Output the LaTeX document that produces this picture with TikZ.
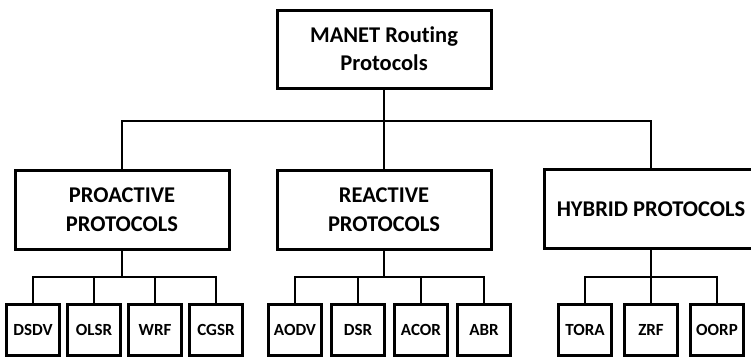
\documentclass[tikz,border=0pt]{standalone}
\usepackage{fontspec}
\setmainfont{Carlito}[Ligatures=CommonOff]
\usetikzlibrary{positioning}

\begin{document}
\begin{tikzpicture}[
  x=1pt, y=-1pt,
  node distance=5pt,
  rootbox/.style={
    rectangle, draw=black, line width=3pt, fill=white,
    minimum width=214pt, minimum height=78pt, align=center,
    font=\fontsize{22.5}{28}\selectfont\bfseries
  },
  classbox/.style={
    rectangle, draw=black, line width=3pt, fill=white,
    minimum width=214pt, minimum height=79pt, align=center,
    font=\fontsize{22.5}{29}\selectfont\bfseries
  },
  leaf/.style={
    rectangle, draw=black, line width=3pt, fill=white,
    minimum width=53pt, minimum height=51pt, align=center,
    font=\fontsize{17}{20}\selectfont\bfseries
  },
  link/.style={line width=2.5pt, color=black},
]
  \clip (0,0) rectangle (751,359);

  % Level 0: root
  \node[rootbox] (root) at (384,49) {MANET Routing\\Protocols};

  % Level 1: protocol classes
  \node[classbox] (pro) at (122,210) {PROACTIVE\\PROTOCOLS};
  \node[classbox] (rea) at (384,210) {REACTIVE\\PROTOCOLS};
  \node[classbox] (hyb) at (651,209) {HYBRID PROTOCOLS};

  % Level 2: proactive
  \node[leaf] (dsdv) at (33,330) {DSDV};
  \node[leaf, right=of dsdv] (olsr) {OLSR};
  \node[leaf, right=of olsr] (wrf) {WRF};
  \node[leaf, right=of wrf] (cgsr) {CGSR};

  % Level 2: reactive
  \node[leaf] (aodv) at (295,330) {AODV};
  \node[leaf, right=7pt of aodv] (dsr) {DSR};
  \node[leaf, right=7pt of dsr] (acor) {ACOR};
  \node[leaf, right=7pt of acor] (abr) {ABR};

  % Level 2: hybrid
  \node[leaf] (tora) at (585,330) {TORA};
  \node[leaf, right=10pt of tora] (zrf) {ZRF};
  \node[leaf, right=10pt of zrf] (oorp) {OORP};

  % Connectors
  \coordinate (rootbar) at (384,121);
  \draw[link] (root) -- (rea);
  \draw[link] (pro.north) |- (rootbar) -| (hyb.north);

  \coordinate (probar) at (122,277);
  \draw[link] (pro) -- (probar);
  \draw[link] (dsdv.north) |- (probar) -| (cgsr.north);
  \foreach \n in {olsr,wrf}
    \draw[link] (\n.north) -- (\n.north |- probar);

  \coordinate (reabar) at (384,277);
  \draw[link] (rea) -- (reabar);
  \draw[link] (aodv.north) |- (reabar) -| (abr.north);
  \foreach \n in {dsr,acor}
    \draw[link] (\n.north) -- (\n.north |- reabar);

  \coordinate (hybbar) at (651,277);
  \draw[link] (hyb) -- (hybbar);
  \draw[link] (tora.north) |- (hybbar) -| (oorp.north);
  \draw[link] (zrf.north) -- (zrf.north |- hybbar);
\end{tikzpicture}
\end{document}
